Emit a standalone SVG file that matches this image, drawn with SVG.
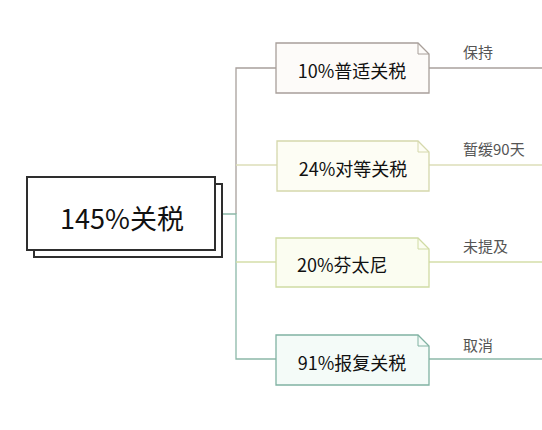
<svg xmlns="http://www.w3.org/2000/svg" width="542" height="430" viewBox="0 0 542 430">
<defs>
<style>
.main{fill:#ffffff;stroke:#2e2e2e;stroke-width:2}
.t{font-family:"Noto Sans CJK SC","Noto Sans",sans-serif;dominant-baseline:central}
.nt{font-size:18px;fill:#111111}
.lb{font-size:15px;fill:#555}
.c{fill:none;stroke-width:1.3}
</style>
</defs>
<rect width="542" height="430" fill="#ffffff"/>
<g id="connectors">
<path class="c" d="M236 214 V68 H276" stroke="#a8a09c"/>
<path class="c" d="M429 68 H542" stroke="#a8a09c"/>
<path class="c" d="M236 165 H277" stroke="#dcdeb8"/>
<path class="c" d="M429 165 H542" stroke="#dcdeb8"/>
<path class="c" d="M216 214 H236 V359 H276" stroke="#8cb8a8"/>
<path class="c" d="M236 262 H276" stroke="#d4dea8"/>
<path class="c" d="M429 262 H542" stroke="#d4dea8"/>
<path class="c" d="M429 359 H542" stroke="#8cb8a8"/>
</g>
<g id="root">
<rect class="main" x="34" y="184" width="188" height="73"/>
<rect class="main" x="27" y="177" width="188" height="73"/>
<text class="t" x="122" y="217" font-size="27" fill="#111111" text-anchor="middle">145%关税</text>
</g>
<g id="n1">
<path d="M276 43 H418 L429 54 V93 H276 Z" fill="#fdfbf9" stroke="#a89f9a" stroke-width="1.3"/>
<path d="M418 43 V54 H429" fill="none" stroke="#a89f9a" stroke-width="1"/>
<text class="t nt" x="352" y="70" text-anchor="middle">10%普适关税</text>
<text class="t lb" x="463" y="51">保持</text>
</g>
<g id="n2">
<path d="M277 141 H418 L429 152 V191 H277 Z" fill="#fdfdf4" stroke="#d5d8ac" stroke-width="1.3"/>
<path d="M418 141 V152 H429" fill="none" stroke="#d5d8ac" stroke-width="1"/>
<text class="t nt" x="353" y="168" text-anchor="middle">24%对等关税</text>
<text class="t lb" x="463" y="148">暂缓90天</text>
</g>
<g id="n3">
<path d="M276 238 H418 L429 249 V287 H276 Z" fill="#fbfdf1" stroke="#d0dba4" stroke-width="1.3"/>
<path d="M418 238 V249 H429" fill="none" stroke="#d0dba4" stroke-width="1"/>
<text class="t nt" x="297" y="264">20%芬太尼</text>
<text class="t lb" x="463" y="245">未提及</text>
</g>
<g id="n4">
<path d="M276 335 H418 L429 346 V385 H276 Z" fill="#f4fbf8" stroke="#80b2a2" stroke-width="1.3"/>
<path d="M418 335 V346 H429" fill="none" stroke="#80b2a2" stroke-width="1"/>
<text class="t nt" x="352" y="362" text-anchor="middle">91%报复关税</text>
<text class="t lb" x="463" y="344">取消</text>
</g>
</svg>
